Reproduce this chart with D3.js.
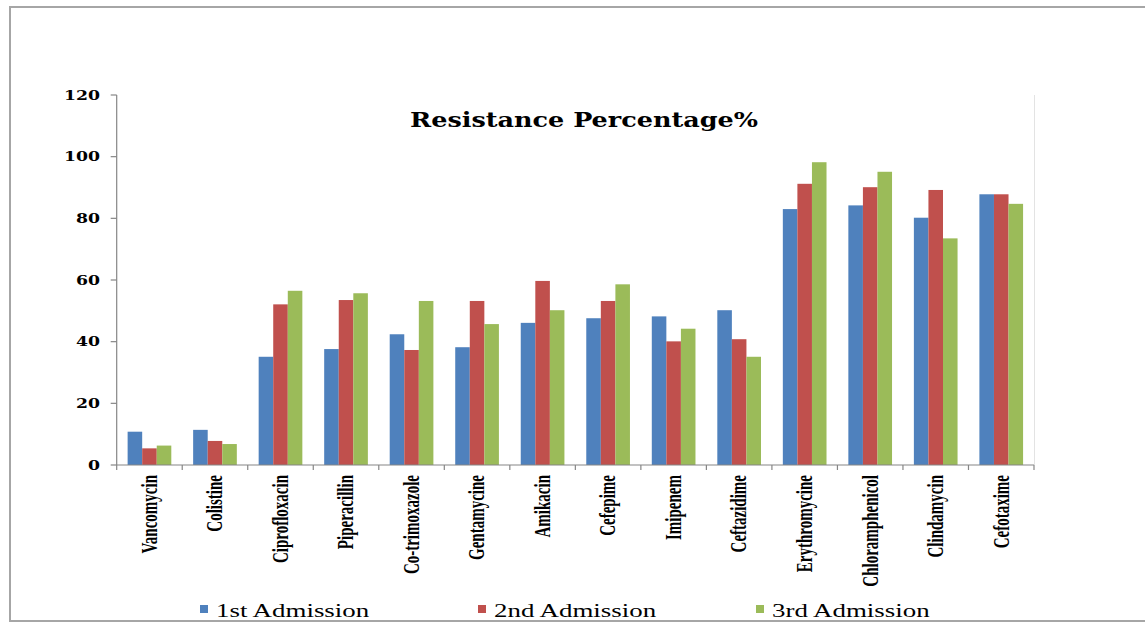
<!DOCTYPE html>
<html>
<head>
<meta charset="utf-8">
<script src="https://cdn.jsdelivr.net/npm/d3@7"></script>
<style>
  html, body { margin: 0; padding: 0; background: #ffffff; }
  svg { display: block; }
</style>
</head>
<body>
<svg id="chart" width="1145" height="623"></svg>
<script>
// ---- data ----
const categories = ["Vancomycin", "Colistine", "Ciprofloxacin", "Piperacillin", "Co-trimoxazole",
  "Gentamycine", "Amikacin", "Cefepime", "Imipenem", "Ceftazidime", "Erythromycine",
  "Chloramphenicol", "Clindamycin", "Cefotaxime"];
const seriesNames = ["1st Admission", "2nd Admission", "3rd Admission"];
const firstAdmission  = [10.8, 11.4, 35.1, 37.6, 42.4, 38.2, 46.1, 47.6, 48.2, 50.2, 83.0, 84.2, 80.2, 87.8];
const secondAdmission = [5.4, 7.8, 52.1, 53.5, 37.3, 53.2, 59.7, 53.2, 40.1, 40.8, 91.2, 90.1, 89.2, 87.8];
const thirdAdmission  = [6.3, 6.8, 56.5, 55.7, 53.2, 45.7, 50.2, 58.6, 44.2, 35.1, 98.2, 95.1, 73.5, 84.7];
const yTicks = [0, 20, 40, 60, 80, 100, 120];
const titleText = "Resistance Percentage%";

const seriesValues = [firstAdmission, secondAdmission, thirdAdmission];
const colors = ["#4F81BD", "#C0504D", "#9BBB59"];

// ---- layout ----
const svg = d3.select("#chart");
const S = 1.38;   // horizontal stretch of the original picture
const SX = 1.48;  // stretch for the rotated category labels
const plot = { left: 116.7, right: 1034, top: 95, bottom: 465 };

// outer frame
svg.append("rect")
  .attr("x", 10).attr("y", 7)
  .attr("width", 1160).attr("height", 614)
  .attr("fill", "#ffffff")
  .attr("stroke", "#a6a6a6").attr("stroke-width", 2);

const x0 = d3.scaleBand().domain(categories).range([plot.left, plot.right]).padding(0);
const x1 = d3.scaleBand().domain(seriesNames).range([0, x0.bandwidth()])
  .paddingInner(0).paddingOuter(0.75);
const y = d3.scaleLinear().domain([0, 120]).range([plot.bottom, plot.top]);

// faint right border of the plot area
svg.append("line")
  .attr("x1", plot.right + 0.5).attr("x2", plot.right + 0.5)
  .attr("y1", plot.top).attr("y2", plot.bottom)
  .attr("stroke", "#e3e3e3").attr("stroke-width", 1);

// bars
const rows = categories.map((c, i) => ({
  cat: c,
  vals: seriesNames.map((s, j) => ({ s, j, v: seriesValues[j][i] }))
}));
const groups = svg.append("g").selectAll("g").data(rows).join("g")
  .attr("transform", d => `translate(${x0(d.cat)},0)`);
groups.selectAll("rect").data(d => d.vals).join("rect")
  .attr("x", d => x1(d.s))
  .attr("width", x1.bandwidth())
  .attr("y", d => y(d.v))
  .attr("height", d => y(0) - y(d.v))
  .attr("fill", d => colors[d.j]);

// y axis
const yAxis = svg.append("g");
yAxis.append("line")
  .attr("x1", plot.left).attr("x2", plot.left)
  .attr("y1", plot.top).attr("y2", plot.bottom)
  .attr("stroke", "#868686").attr("stroke-width", 1.2);
yAxis.selectAll("line.tick").data(yTicks).join("line")
  .attr("class", "tick")
  .attr("x1", plot.left - 6).attr("x2", plot.left)
  .attr("y1", d => y(d)).attr("y2", d => y(d))
  .attr("stroke", "#868686").attr("stroke-width", 1.2);
yAxis.selectAll("text").data(yTicks).join("text")
  .attr("transform", d => `translate(100,${y(d)}) scale(${S},1)`)
  .attr("dy", "0.36em")
  .attr("text-anchor", "end")
  .attr("font-family", "'DejaVu Serif', serif")
  .attr("font-weight", "bold")
  .attr("font-size", 12.5)
  .attr("fill", "#000")
  .text(d => d);

// x axis
const xAxis = svg.append("g");
xAxis.append("line")
  .attr("x1", plot.left).attr("x2", plot.right)
  .attr("y1", plot.bottom).attr("y2", plot.bottom)
  .attr("stroke", "#868686").attr("stroke-width", 1.2);
const boundaries = categories.map(c => x0(c)).concat([plot.right]);
xAxis.selectAll("line.tick").data(boundaries).join("line")
  .attr("class", "tick")
  .attr("x1", d => d).attr("x2", d => d)
  .attr("y1", plot.bottom).attr("y2", plot.bottom + 5)
  .attr("stroke", "#868686").attr("stroke-width", 1.2);
xAxis.selectAll("text").data(categories).join("text")
  .attr("transform", d => `translate(${x0(d) + x0.bandwidth() / 2},475) scale(${SX},1) rotate(-90)`)
  .attr("dy", "0.33em")
  .attr("text-anchor", "end")
  .attr("font-family", "'Liberation Serif', 'Times New Roman', serif")
  .attr("font-weight", "bold")
  .attr("font-size", 15)
  .attr("fill", "#000")
  .text(d => d);

// title
svg.append("text")
  .attr("x", 410).attr("y", 127)
  .attr("textLength", 348)
  .attr("lengthAdjust", "spacingAndGlyphs")
  .attr("font-family", "'DejaVu Serif', serif")
  .attr("font-weight", "bold")
  .attr("font-size", 19.5)
  .attr("fill", "#000")
  .text(titleText);

// legend
const legend = svg.append("g").selectAll("g").data(seriesNames).join("g")
  .attr("transform", (d, i) => `translate(${200 + i * 278},610)`);
legend.append("rect")
  .attr("x", 0).attr("y", -5)
  .attr("width", 8).attr("height", 8)
  .attr("fill", (d, i) => colors[i]);
legend.append("text")
  .attr("transform", `translate(16,0) scale(${S},1)`)
  .attr("dy", "0.35em")
  .attr("font-family", "'Liberation Serif', 'Times New Roman', serif")
  .attr("font-size", 19.5)
  .attr("fill", "#000")
  .text(d => d);
</script>
</body>
</html>
